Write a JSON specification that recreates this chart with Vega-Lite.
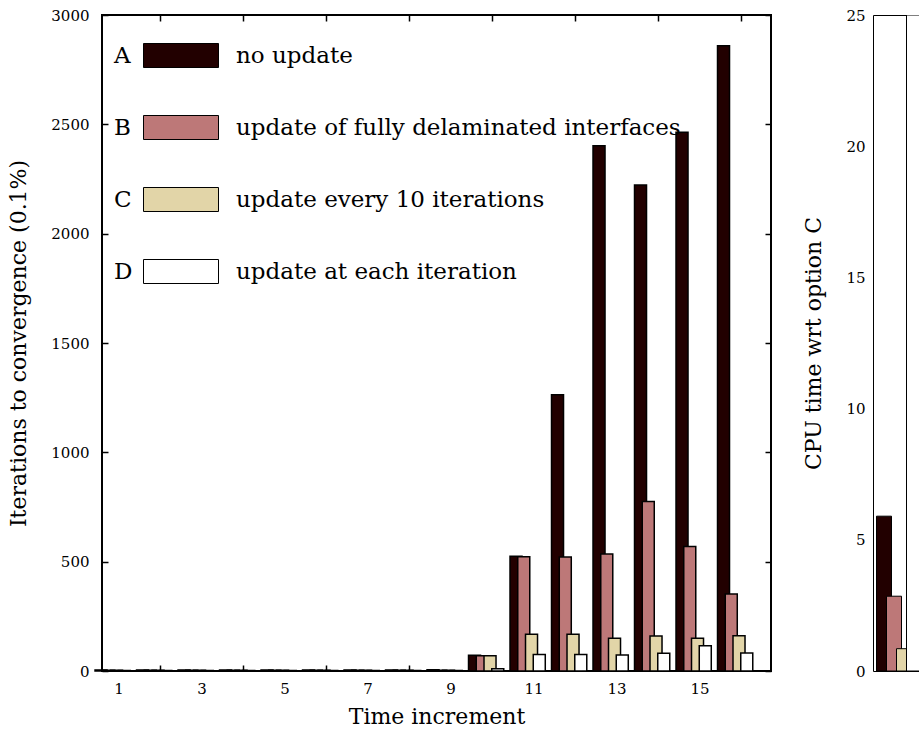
{
  "$schema": "https://vega.github.io/schema/vega-lite/v6.json",
  "padding": {"left": 6, "top": 7, "right": 0, "bottom": 0},
  "config": {
    "view": {"stroke": "black", "strokeWidth": 2},
    "font": "DejaVu Serif",
    "axis": {"labelFont": "DejaVu Serif", "titleFont": "DejaVu Serif", "labelFontSize": 15, "titleFontSize": 22, "titleFontWeight": "normal", "labelColor": "black", "titleColor": "black", "tickColor": "black", "domainColor": "black", "grid": false},
    "legend": {"labelFont": "DejaVu Serif", "labelFontSize": 23, "labelColor": "black", "labelLimit": 700}
  },
  "datasets": {
    "iters": [
      {"t": 1, "series": "A", "value": 5}, {"t": 1, "series": "B", "value": 3}, {"t": 1, "series": "C", "value": 3}, {"t": 1, "series": "D", "value": 2},
      {"t": 2, "series": "A", "value": 5}, {"t": 2, "series": "B", "value": 3}, {"t": 2, "series": "C", "value": 3}, {"t": 2, "series": "D", "value": 2},
      {"t": 3, "series": "A", "value": 5}, {"t": 3, "series": "B", "value": 3}, {"t": 3, "series": "C", "value": 3}, {"t": 3, "series": "D", "value": 2},
      {"t": 4, "series": "A", "value": 5}, {"t": 4, "series": "B", "value": 3}, {"t": 4, "series": "C", "value": 3}, {"t": 4, "series": "D", "value": 2},
      {"t": 5, "series": "A", "value": 5}, {"t": 5, "series": "B", "value": 3}, {"t": 5, "series": "C", "value": 3}, {"t": 5, "series": "D", "value": 2},
      {"t": 6, "series": "A", "value": 5}, {"t": 6, "series": "B", "value": 3}, {"t": 6, "series": "C", "value": 3}, {"t": 6, "series": "D", "value": 2},
      {"t": 7, "series": "A", "value": 5}, {"t": 7, "series": "B", "value": 3}, {"t": 7, "series": "C", "value": 3}, {"t": 7, "series": "D", "value": 2},
      {"t": 8, "series": "A", "value": 5}, {"t": 8, "series": "B", "value": 3}, {"t": 8, "series": "C", "value": 3}, {"t": 8, "series": "D", "value": 2},
      {"t": 9, "series": "A", "value": 6}, {"t": 9, "series": "B", "value": 4}, {"t": 9, "series": "C", "value": 4}, {"t": 9, "series": "D", "value": 2},
      {"t": 10, "series": "A", "value": 72}, {"t": 10, "series": "B", "value": 70}, {"t": 10, "series": "C", "value": 70}, {"t": 10, "series": "D", "value": 10},
      {"t": 11, "series": "A", "value": 525}, {"t": 11, "series": "B", "value": 523}, {"t": 11, "series": "C", "value": 168}, {"t": 11, "series": "D", "value": 76},
      {"t": 12, "series": "A", "value": 1263}, {"t": 12, "series": "B", "value": 521}, {"t": 12, "series": "C", "value": 168}, {"t": 12, "series": "D", "value": 76},
      {"t": 13, "series": "A", "value": 2402}, {"t": 13, "series": "B", "value": 535}, {"t": 13, "series": "C", "value": 150}, {"t": 13, "series": "D", "value": 73},
      {"t": 14, "series": "A", "value": 2223}, {"t": 14, "series": "B", "value": 775}, {"t": 14, "series": "C", "value": 160}, {"t": 14, "series": "D", "value": 81},
      {"t": 15, "series": "A", "value": 2464}, {"t": 15, "series": "B", "value": 569}, {"t": 15, "series": "C", "value": 150}, {"t": 15, "series": "D", "value": 116},
      {"t": 16, "series": "A", "value": 2859}, {"t": 16, "series": "B", "value": 352}, {"t": 16, "series": "C", "value": 161}, {"t": 16, "series": "D", "value": 82}
    ],
    "names": [
      {"series": "A", "desc": "no update"},
      {"series": "B", "desc": "update of fully delaminated interfaces"},
      {"series": "C", "desc": "update every 10 iterations"},
      {"series": "D", "desc": "update at each iteration"}
    ],
    "cpu": [
      {"series": "A", "value": 5.9},
      {"series": "B", "value": 2.85},
      {"series": "C", "value": 0.85},
      {"series": "D", "value": 25}
    ]
  },
  "hconcat": [
    {
      "width": 669,
      "height": 656,
      "data": {"name": "iters"},
      "transform": [
        {"lookup": "series", "from": {"data": {"name": "names"}, "key": "series", "fields": ["desc"]}}
      ],
      "layer": [
        {
          "mark": {"type": "bar", "stroke": "black", "strokeWidth": 1.5, "width": {"band": 1.55}},
          "encoding": {
            "x": {
              "field": "t", "type": "ordinal",
              "scale": {"paddingInner": 0.253, "paddingOuter": 0.187, "align": 0.1},
              "axis": {"orient": "bottom", "labelAngle": 0, "labelExpr": "datum.value % 2 == 1 ? datum.label : ''", "tickSize": -6, "tickWidth": 1.5, "tickOpacity": {"condition": {"test": "datum.value % 2 == 0", "value": 1}, "value": 0}, "domain": false, "labelPadding": 16, "title": "Time increment", "titlePadding": 10}
            },
            "xOffset": {"field": "series", "type": "nominal", "scale": {"paddingInner": 0, "paddingOuter": 0}},
            "y": {
              "field": "value", "type": "quantitative",
              "scale": {"domain": [0, 3000], "nice": false},
              "axis": {"values": [0, 500, 1000, 1500, 2000, 2500, 3000], "format": "d", "tickSize": -6, "tickWidth": 1.5, "domain": false, "labelPadding": 19, "title": "Iterations to convergence (0.1%)", "titlePadding": 20}
            },
            "fill": {
              "field": "desc", "type": "nominal",
              "scale": {"domain": ["no update", "update of fully delaminated interfaces", "update every 10 iterations", "update at each iteration"], "range": ["#220000", "#bd7878", "#e2d5a8", "#ffffff"]},
              "legend": {"orient": "none", "legendX": 41, "legendY": 15, "title": null, "symbolType": "M-1,-0.48H2V0.48H-1Z", "symbolSize": 2500, "symbolStrokeColor": "black", "symbolStrokeWidth": 1, "symbolOpacity": 1, "labelOffset": 42, "rowPadding": 32, "padding": 0, "labelFontSize": 23}
            },
            "strokeDash": {
              "field": "series", "type": "nominal",
              "scale": {"range": [[1, 0], [1, 0], [1, 0], [1, 0]]},
              "legend": {"orient": "none", "legendX": -39, "legendY": 15, "title": null, "symbolSize": 2500, "symbolOpacity": 0, "symbolStrokeWidth": 1, "labelOffset": 0, "rowPadding": 21, "padding": 0, "labelFontSize": 23}
            }
          }
        },
        {
          "mark": {"type": "point", "opacity": 0},
          "encoding": {
            "x": {"field": "t", "type": "ordinal", "axis": {"orient": "top", "labels": false, "title": null, "domain": false, "tickSize": -6, "tickWidth": 1.5, "tickOpacity": {"condition": {"test": "datum.value % 2 == 0", "value": 1}, "value": 0}}},
            "y": {"field": "value", "type": "quantitative", "axis": {"orient": "right", "labels": false, "title": null, "domain": false, "tickSize": -6, "tickWidth": 1.5, "values": [0, 500, 1000, 1500, 2000, 2500, 3000]}}
          }
        }
      ],
      "resolve": {"axis": {"x": "independent", "y": "independent"}}
    },
    {
      "width": 46,
      "height": 656,
      "data": {"name": "cpu"},
      "view": {"stroke": null},
      "layer": [
        {
          "mark": {"type": "bar", "stroke": "black", "strokeWidth": 1, "width": {"band": 1.5}, "clip": true},
          "encoding": {
            "x": {
              "field": "series", "type": "nominal",
              "scale": {"domain": ["A", "B", "C", "D"], "paddingInner": 0, "paddingOuter": 0.3, "align": 1},
              "axis": {"orient": "bottom", "labels": false, "ticks": false, "title": null, "domain": true, "domainWidth": 1}
            },
            "y": {
              "field": "value", "type": "quantitative",
              "scale": {"domain": [0, 25], "nice": false},
              "axis": {"values": [0, 5, 10, 15, 20, 25], "ticks": false, "domain": true, "domainWidth": 1, "labelPadding": 8, "title": "CPU time wrt option C", "titlePadding": 20}
            },
            "fill": {
              "field": "series", "type": "nominal",
              "scale": {"domain": ["A", "B", "C", "D"], "range": ["#220000", "#bd7878", "#e2d5a8", "#ffffff"]},
              "legend": null
            }
          }
        },
        {
          "mark": {"type": "point", "opacity": 0},
          "encoding": {
            "x": {"field": "series", "type": "nominal", "axis": {"orient": "top", "labels": false, "ticks": false, "title": null, "domain": true, "domainWidth": 1}},
            "y": {"field": "value", "type": "quantitative"}
          }
        }
      ],
      "resolve": {"axis": {"x": "independent"}}
    }
  ],
  "spacing": 29,
  "resolve": {"scale": {"fill": "independent"}, "legend": {"fill": "independent"}}
}
